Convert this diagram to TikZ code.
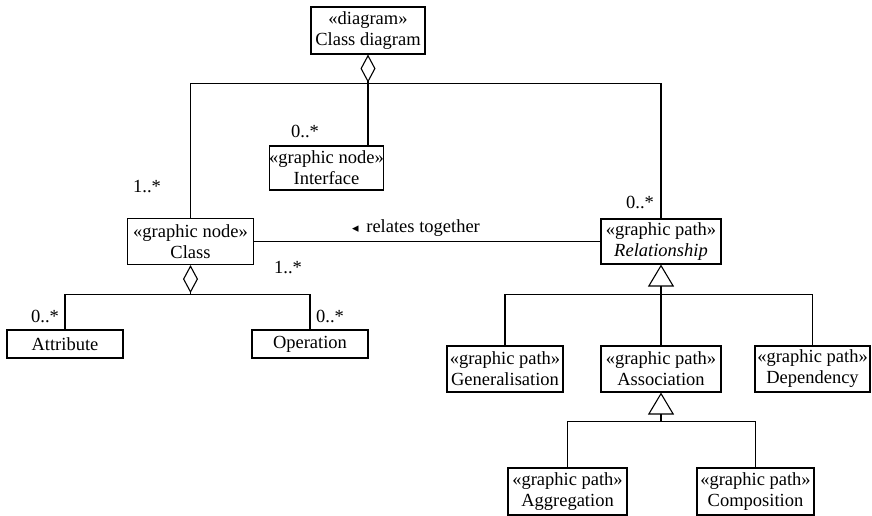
\documentclass[tikz,border=0pt]{standalone}
\usepackage{fontspec}
\setmainfont{Liberation Serif}
\newfontfamily\symfont{DejaVu Sans}
\usepackage{tikz}
\usetikzlibrary{positioning, calc, arrows.meta}

\begin{document}
\begin{tikzpicture}[x=1pt, y=-1pt, line width=1.1pt,
    every node/.style={font=\fontsize{18.5}{21}\selectfont},
    umlbox/.style={draw, rectangle, align=center, inner sep=0pt},
    aggrline/.style={{Diamond[open, length=28pt, width=15pt, line width=1.1pt]}-},
    genline/.style={{Triangle[open, length=22pt, width=26pt, line width=1.1pt]}-}]
    \useasboundingbox (0,0) rectangle (872,516);

    \node[umlbox, minimum width=114pt, minimum height=47pt] (diag) at (368,30.5) {«diagram»\\Class diagram};
    \node[umlbox, minimum width=93pt, minimum height=44pt] (iface) at (326.5,168) {«graphic node»\\Interface};
    \node[umlbox, minimum width=126pt, minimum height=46pt] (class) at (190.5,241.5) {«graphic node»\\Class};
    \node[umlbox, minimum width=120pt, minimum height=45pt] (rel) at (661,241.5) {«graphic path»\\\textit{Relationship}};
    \node[umlbox, minimum width=116pt, minimum height=28pt] (attr) at (65,344) {Attribute};
    \node[umlbox, minimum width=116pt, minimum height=28pt] (oper) at (310,344) {Operation};
    \node[umlbox, minimum width=116pt, minimum height=46pt] (gen) at (505,369) {«graphic path»\\Generalisation};
    \node[umlbox, minimum width=120pt, minimum height=46pt] (assoc) at (661,369) {«graphic path»\\Association};
    \node[umlbox, minimum width=115pt, minimum height=46pt] (dep) at (812.5,369) {«graphic path»\\Dependency};
    \node[umlbox, minimum width=119pt, minimum height=47pt] (aggr) at (567.5,491.5) {«graphic path»\\Aggregation};
    \node[umlbox, minimum width=117pt, minimum height=47pt] (comp) at (755.5,491.5) {«graphic path»\\Composition};

    % class diagram contents
    \draw[aggrline] (diag.south) -- ++(0,29) coordinate (topbar);
    \draw (class.north) |- (topbar) -| (rel.north);
    \draw (topbar) -- (topbar |- iface.north);
    \node (m1) at (147,187) {1..*};
    \node (m2) at (305,131) {0..*};
    \node (m3) at (640,202) {0..*};

    % class members
    \draw[aggrline] (class.south) -- ++(0,29) coordinate (midbar);
    \draw (attr.north) |- (midbar) -| (oper.north);
    \node (m4) at (45,316) {0..*};
    \node (m5) at (330,316) {0..*};
    \node (m6) at (288,268) {1..*};

    \draw (class.east) -- (rel.west);
    \node (rt) at (416,228) {{\symfont\fontsize{13}{13}\selectfont ◂}\, relates together};

    % relationship kinds
    \draw[genline] (rel.south) -- ++(0,30) coordinate (relbar);
    \draw (gen.north) |- (relbar) -| (dep.north);
    \draw (relbar) -- (assoc.north);

    \draw[genline] (assoc.south) -- ++(0,29) coordinate (assocbar);
    \draw (aggr.north) |- (assocbar) -| (comp.north);
\end{tikzpicture}
\end{document}
